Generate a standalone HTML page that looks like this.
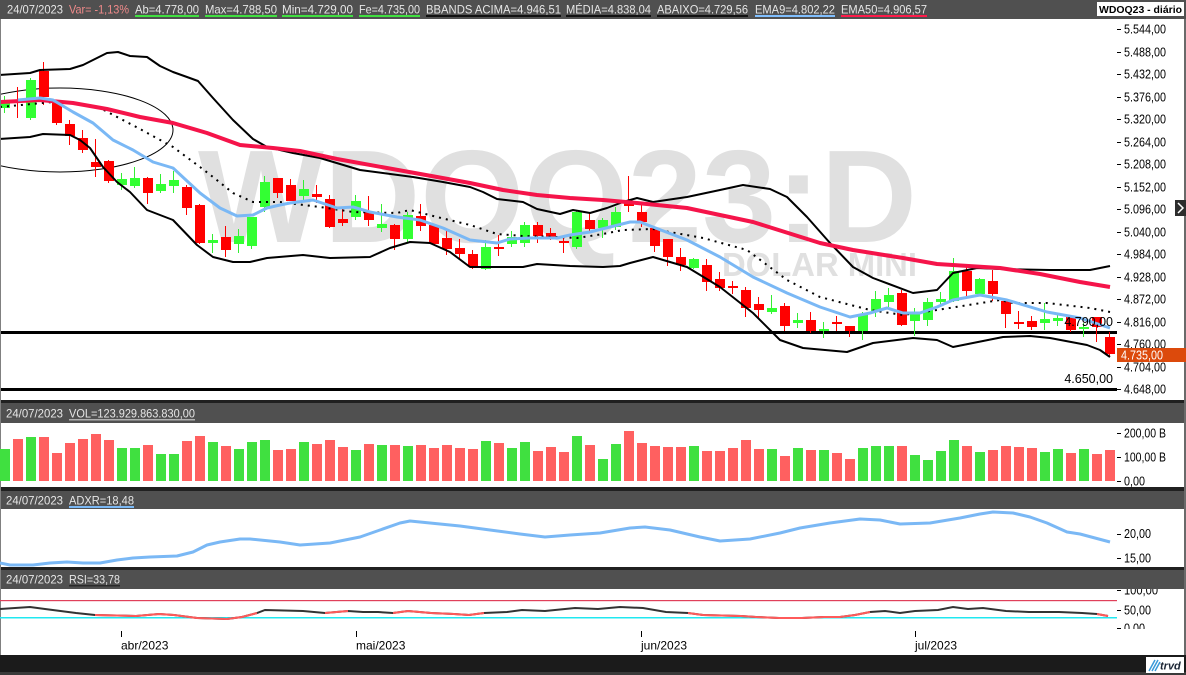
<!DOCTYPE html>
<html><head><meta charset="utf-8"><style>
html,body{margin:0;padding:0;background:#fff;}
svg{display:block;font-family:"Liberation Sans",Arial,sans-serif;}
</style></head><body>
<svg width="1186" height="675" viewBox="0 0 1186 675" xmlns="http://www.w3.org/2000/svg">
<defs>
<clipPath id="cm"><rect x="1" y="19" width="1116" height="382"/></clipPath>
<clipPath id="cr"><rect x="1100" y="589" width="86" height="40"/></clipPath>
</defs>
<rect x="0" y="0" width="1186" height="675" fill="#fff"/>
<rect x="0" y="0" width="1186" height="19" fill="#505050"/>
<rect x="0" y="400" width="1186" height="3" fill="#202020"/>
<rect x="0" y="403" width="1186" height="20" fill="#505050"/>
<rect x="0" y="487" width="1186" height="4" fill="#202020"/>
<rect x="0" y="491" width="1186" height="18" fill="#505050"/>
<rect x="0" y="567" width="1186" height="3" fill="#202020"/>
<rect x="0" y="570" width="1186" height="19" fill="#505050"/>
<rect x="0" y="655" width="1186" height="20" fill="#1b1b1b"/>
<rect x="0" y="672" width="1186" height="3" fill="#3a3a3a"/>
<rect x="0" y="19" width="1" height="636" fill="#808080"/>
<rect x="1184" y="19" width="2" height="636" fill="#6a6a6a"/>

<g clip-path="url(#cm)" fill="#e0e0e0" font-weight="bold">
<text x="198" y="242" font-size="132" textLength="719" lengthAdjust="spacingAndGlyphs">WDOQ23:D</text>
<text x="722" y="276" font-size="33" textLength="195" lengthAdjust="spacingAndGlyphs">DOLAR MINI</text>
</g>

<g clip-path="url(#cm)">
<rect x="0" y="331" width="1117" height="3" fill="#000"/>
<rect x="0" y="388" width="1117" height="3" fill="#000"/>
<ellipse cx="60" cy="130" rx="113" ry="42" fill="none" stroke="#000" stroke-width="1"/>
<path fill="none" stroke="#33ee33" stroke-width="1" d="M4.5 96V113M30.5 78V120M121.5 173V190M134.5 167V188M160.5 174V193M173.5 171V193M212.5 234V253M238.5 229V253M251.5 217V249M264.5 176V212M303.5 180V200M355.5 195V220M381.5 204V232M407.5 212V243M485.5 240V270M511.5 231V247M524.5 222V247M576.5 210V249M602.5 218V238M615.5 207V230M693.5 258V269M771.5 295V314M797.5 313V328M823.5 322V338M862.5 312V340M875.5 291V317M888.5 288V308M914.5 308V336M927.5 298V326M940.5 292V307M953.5 258V302M979.5 278V296M1044.5 303V330M1057.5 313V326M1083.5 323V337"/>
<path fill="none" stroke="#ff0000" stroke-width="1" d="M17.5 87V118M43.5 62V105M56.5 101V125M69.5 120V145M82.5 130V153M95.5 139V177M108.5 160V183M147.5 177V204M186.5 185V215M199.5 204V244M225.5 226V257M277.5 178V198M290.5 179V201M316.5 185V203M329.5 195V228M342.5 207V226M368.5 196V226M394.5 224V250M420.5 204V231M433.5 225V245M446.5 230V255M459.5 239V259M472.5 250V269M498.5 235V256M537.5 222V243M550.5 228V240M563.5 236V253M589.5 213V232M628.5 176V212M641.5 203V227M654.5 228V252M667.5 239V266M680.5 248V271M706.5 259V291M719.5 272V291M732.5 281V294M745.5 287V317M758.5 297V318M784.5 303V331M810.5 312V333M836.5 316V331M849.5 326V337M901.5 290V326M966.5 267V298M992.5 270V301M1005.5 300V328M1018.5 311V329M1031.5 316V330M1070.5 317V332M1096.5 317V342M1109.5 332V356"/>
<path fill="#33ff33" d="M0 100h10v8h-10zM26 80h10v38h-10zM117 179h10v6h-10zM130 178h10v8h-10zM156 184h10v7h-10zM169 180h10v6h-10zM208 240h10v3h-10zM234 236h10v8h-10zM247 217h10v29h-10zM260 182h10v25h-10zM299 189h10v7h-10zM351 201h10v16h-10zM377 224h10v4h-10zM403 215h10v24h-10zM481 247h10v22h-10zM507 237h10v7h-10zM520 225h10v18h-10zM572 212h10v35h-10zM598 220h10v8h-10zM611 212h10v15h-10zM689 259h10v9h-10zM767 308h10v4h-10zM793 320h10v3h-10zM819 329h10v2h-10zM858 314h10v17h-10zM871 299h10v13h-10zM884 295h10v7h-10zM910 312h10v9h-10zM923 302h10v18h-10zM936 299h10v3h-10zM949 271h10v30h-10zM975 279h10v15h-10zM1040 319h10v4h-10zM1053 318h10v3h-10zM1079 327h10v2h-10z"/>
<path fill="#ff0000" d="M13 100h10v2h-10zM39 71h10v26h-10zM52 102h10v21h-10zM65 124h10v12h-10zM78 138h10v12h-10zM91 162h10v5h-10zM104 161h10v20h-10zM143 178h10v15h-10zM182 187h10v21h-10zM195 205h10v38h-10zM221 237h10v13h-10zM273 178h10v15h-10zM286 185h10v16h-10zM312 194h10v3h-10zM325 199h10v28h-10zM338 219h10v4h-10zM364 212h10v8h-10zM390 225h10v14h-10zM416 216h10v10h-10zM429 225h10v19h-10zM442 238h10v11h-10zM455 248h10v6h-10zM468 254h10v12h-10zM494 247h10v2h-10zM533 225h10v11h-10zM546 233h10v4h-10zM559 241h10v2h-10zM585 220h10v9h-10zM624 203h10v3h-10zM637 212h10v10h-10zM650 228h10v18h-10zM663 239h10v18h-10zM676 257h10v8h-10zM702 265h10v17h-10zM715 279h10v9h-10zM728 286h10v2h-10zM741 290h10v18h-10zM754 304h10v6h-10zM780 306h10v20h-10zM806 320h10v11h-10zM832 322h10v2h-10zM845 326h10v5h-10zM897 293h10v32h-10zM962 271h10v20h-10zM988 281h10v13h-10zM1001 301h10v13h-10zM1014 322h10v2h-10zM1027 321h10v6h-10zM1066 317h10v13h-10zM1092 317h10v10h-10zM1105 337h10v17h-10z"/>
<polyline fill="none" stroke="#000" stroke-width="2" stroke-linejoin="round" points="0,75 30,73 40,70 70,69 83,65 107,53 118,52 130,56 147,57 160,66 173,72 187,77 198,81 213,98 233,120 253,139 267,147 293,153 320,158 360,170 413,177 443,182 470,187 483,192 497,199 523,202 537,209 560,214 573,210 590,213 607,208 623,202 637,198 653,202 687,197 720,190 743,185 770,189 787,197 807,217 830,243 853,267 873,278 913,293 937,290 953,273 977,268 1000,269 1050,270 1090,270 1110,266"/>
<polyline fill="none" stroke="#000" stroke-width="2" stroke-linejoin="round" points="0,139 30,137 43,134 70,135 80,140 90,148 103,167 117,182 130,192 147,210 173,220 197,245 213,257 233,262 250,262 267,258 303,255 330,258 370,257 390,248 410,242 430,243 450,252 470,267 483,267 523,267 537,264 570,266 603,267 620,266 630,263 653,257 687,267 720,287 753,313 780,340 803,348 847,352 873,343 913,338 937,340 953,347 973,343 1003,337 1030,336 1050,338 1087,345 1100,350 1110,357"/>
<polyline fill="none" stroke="#000" stroke-width="2" stroke-dasharray="2 5" points="0,107 53,102 80,104 100,108 140,129 173,147 200,167 213,177 233,193 253,202 280,202 320,207 353,212 397,213 410,210 437,217 470,225 497,234 523,236 557,237 577,238 603,234 623,230 653,229 703,238 747,250 787,280 820,297 870,310 903,315 937,310 1000,300 1013,303 1047,303 1090,308 1110,312"/>
<polyline fill="none" stroke="#f5144a" stroke-width="4" stroke-linejoin="round" points="0,102 40,100 73,103 107,109 140,117 173,123 207,133 240,145 273,148 300,151 337,159 437,177 470,183 503,190 537,195 570,198 603,200 637,203 687,208 753,222 820,243 853,250 903,258 937,264 1000,268 1040,274 1080,282 1110,287"/>
<polyline fill="none" stroke="#7ab8f5" stroke-width="3" stroke-linejoin="round" points="18,100 40,98 53,100 73,112 93,123 113,140 133,150 153,162 173,168 200,193 220,208 237,216 253,215 267,208 280,205 290,203 313,200 337,208 353,207 370,212 397,217 420,220 443,228 470,240 497,243 510,239 530,238 557,238 570,235 590,232 610,227 630,222 640,222 653,227 687,240 720,257 753,277 787,293 820,307 850,317 870,313 887,308 903,313 920,313 937,307 953,300 980,295 1007,300 1047,312 1080,318 1110,328"/>
<text x="1113" y="326" font-size="12.5" text-anchor="end" fill="#000">4.790,00</text>
<text x="1113" y="383" font-size="12.5" text-anchor="end" fill="#000">4.650,00</text>
</g>

<g fill="#000" font-size="12.5">
<path stroke="#000" stroke-width="1" d="M1117 29.5h4M1117 52.5h4M1117 74.5h4M1117 97.5h4M1117 119.5h4M1117 142.5h4M1117 164.5h4M1117 187.5h4M1117 209.5h4M1117 232.5h4M1117 254.5h4M1117 277.5h4M1117 299.5h4M1117 322.5h4M1117 344.5h4M1117 367.5h4M1117 389.5h4"/>
<text x="1124" y="33.5" textLength="42" lengthAdjust="spacingAndGlyphs">5.544,00</text>
<text x="1124" y="56.5" textLength="42" lengthAdjust="spacingAndGlyphs">5.488,00</text>
<text x="1124" y="78.5" textLength="42" lengthAdjust="spacingAndGlyphs">5.432,00</text>
<text x="1124" y="101.5" textLength="42" lengthAdjust="spacingAndGlyphs">5.376,00</text>
<text x="1124" y="123.5" textLength="42" lengthAdjust="spacingAndGlyphs">5.320,00</text>
<text x="1124" y="146.5" textLength="42" lengthAdjust="spacingAndGlyphs">5.264,00</text>
<text x="1124" y="168.5" textLength="42" lengthAdjust="spacingAndGlyphs">5.208,00</text>
<text x="1124" y="191.5" textLength="42" lengthAdjust="spacingAndGlyphs">5.152,00</text>
<text x="1124" y="213.5" textLength="42" lengthAdjust="spacingAndGlyphs">5.096,00</text>
<text x="1124" y="236.5" textLength="42" lengthAdjust="spacingAndGlyphs">5.040,00</text>
<text x="1124" y="258.5" textLength="42" lengthAdjust="spacingAndGlyphs">4.984,00</text>
<text x="1124" y="281.5" textLength="42" lengthAdjust="spacingAndGlyphs">4.928,00</text>
<text x="1124" y="303.5" textLength="42" lengthAdjust="spacingAndGlyphs">4.872,00</text>
<text x="1124" y="326.5" textLength="42" lengthAdjust="spacingAndGlyphs">4.816,00</text>
<text x="1124" y="348.5" textLength="42" lengthAdjust="spacingAndGlyphs">4.760,00</text>
<text x="1124" y="371.5" textLength="42" lengthAdjust="spacingAndGlyphs">4.704,00</text>
<text x="1124" y="393.5" textLength="42" lengthAdjust="spacingAndGlyphs">4.648,00</text>
</g>
<rect x="1117" y="348" width="69" height="14" fill="#dc4a0c"/>
<text x="1121" y="359.5" font-size="12.5" fill="#fff" textLength="42" lengthAdjust="spacingAndGlyphs">4.735,00</text>
<rect x="1175" y="200" width="11" height="16" fill="#2d2d2d"/>
<path d="M1178 203l5 5l-5 5" fill="none" stroke="#fff" stroke-width="1.5"/>

<g font-size="12" fill="#e6e6e6">
<text x="7" y="13.5" textLength="56" lengthAdjust="spacingAndGlyphs">24/07/2023</text>
<text x="69" y="13.5" fill="#f08a8a" textLength="60" lengthAdjust="spacingAndGlyphs">Var= -1,13%</text>
<text x="135" y="13.5" textLength="64" lengthAdjust="spacingAndGlyphs">Ab=4.778,00</text>
<text x="205" y="13.5" textLength="72" lengthAdjust="spacingAndGlyphs">Max=4.788,50</text>
<text x="282" y="13.5" textLength="71" lengthAdjust="spacingAndGlyphs">Min=4.729,00</text>
<text x="359" y="13.5" textLength="61" lengthAdjust="spacingAndGlyphs">Fe=4.735,00</text>
<text x="426" y="13.5" textLength="135" lengthAdjust="spacingAndGlyphs">BBANDS ACIMA=4.946,51</text>
<text x="566" y="13.5" textLength="85" lengthAdjust="spacingAndGlyphs">MÉDIA=4.838,04</text>
<text x="657" y="13.5" textLength="91" lengthAdjust="spacingAndGlyphs">ABAIXO=4.729,56</text>
<text x="755" y="13.5" textLength="80" lengthAdjust="spacingAndGlyphs">EMA9=4.802,22</text>
<text x="841" y="13.5" textLength="86" lengthAdjust="spacingAndGlyphs">EMA50=4.906,57</text>
</g>
<rect x="135" y="15" width="64" height="2" fill="#40e040"/>
<rect x="205" y="15" width="72" height="2" fill="#40e040"/>
<rect x="282" y="15" width="71" height="2" fill="#40e040"/>
<rect x="359" y="15" width="61" height="2" fill="#40e040"/>
<rect x="426" y="15" width="135" height="2" fill="#111"/>
<rect x="566" y="15" width="85" height="2" fill="#111"/>
<rect x="657" y="15" width="91" height="2" fill="#111"/>
<rect x="755" y="15" width="80" height="2" fill="#80bfff"/>
<rect x="841" y="15" width="86" height="2" fill="#ff1a4a"/>
<rect x="1097" y="2" width="87" height="14" fill="#fff"/>
<text x="1099" y="13" font-size="10.5" font-weight="bold" fill="#000" textLength="83" lengthAdjust="spacingAndGlyphs">WDOQ23 - diário</text>

<path fill="#40e040" d="M0 449h10V481h-10zM26 437h10V481h-10zM117 448h10V481h-10zM130 448h10V481h-10zM156 454h10V481h-10zM169 454h10V481h-10zM208 442h10V481h-10zM234 449h10V481h-10zM247 442h10V481h-10zM260 440h10V481h-10zM299 442h10V481h-10zM351 450h10V481h-10zM377 445h10V481h-10zM403 446h10V481h-10zM481 441h10V481h-10zM507 448h10V481h-10zM520 442h10V481h-10zM572 436h10V481h-10zM598 459h10V481h-10zM611 444h10V481h-10zM689 446h10V481h-10zM767 449h10V481h-10zM793 448h10V481h-10zM819 450h10V481h-10zM858 448h10V481h-10zM871 446h10V481h-10zM884 446h10V481h-10zM910 455h10V481h-10zM923 460h10V481h-10zM936 451h10V481h-10zM949 440h10V481h-10zM975 452h10V481h-10zM1040 452h10V481h-10zM1053 449h10V481h-10zM1079 449h10V481h-10z"/>
<path fill="#ff6060" d="M13 439h10V481h-10zM39 437h10V481h-10zM52 453h10V481h-10zM65 443h10V481h-10zM78 439h10V481h-10zM91 434h10V481h-10zM104 440h10V481h-10zM143 445h10V481h-10zM182 441h10V481h-10zM195 436h10V481h-10zM221 446h10V481h-10zM273 450h10V481h-10zM286 449h10V481h-10zM312 444h10V481h-10zM325 440h10V481h-10zM338 447h10V481h-10zM364 444h10V481h-10zM390 445h10V481h-10zM416 445h10V481h-10zM429 448h10V481h-10zM442 445h10V481h-10zM455 448h10V481h-10zM468 449h10V481h-10zM494 443h10V481h-10zM533 451h10V481h-10zM546 447h10V481h-10zM559 452h10V481h-10zM585 445h10V481h-10zM624 431h10V481h-10zM637 443h10V481h-10zM650 446h10V481h-10zM663 447h10V481h-10zM676 447h10V481h-10zM702 451h10V481h-10zM715 451h10V481h-10zM728 448h10V481h-10zM741 440h10V481h-10zM754 449h10V481h-10zM780 456h10V481h-10zM806 450h10V481h-10zM832 453h10V481h-10zM845 459h10V481h-10zM897 446h10V481h-10zM962 446h10V481h-10zM988 450h10V481h-10zM1001 446h10V481h-10zM1014 447h10V481h-10zM1027 448h10V481h-10zM1066 453h10V481h-10zM1092 454h10V481h-10zM1105 450h10V481h-10z"/>
<g fill="#000" font-size="12.5">
<path stroke="#000" stroke-width="1" d="M1117 433.5h4M1117 457.5h4M1117 481.5h4M1117 534.5h4M1117 558.5h4M1117 610.5h4"/>
<text x="1124" y="437.5" textLength="42" lengthAdjust="spacingAndGlyphs">200,00 B</text>
<text x="1124" y="461.5" textLength="42" lengthAdjust="spacingAndGlyphs">100,00 B</text>
<text x="1124" y="485.5" textLength="21" lengthAdjust="spacingAndGlyphs">0,00</text>
<text x="1124" y="538" textLength="27" lengthAdjust="spacingAndGlyphs">20,00</text>
<text x="1124" y="562.5" textLength="27" lengthAdjust="spacingAndGlyphs">15,00</text>
<g clip-path="url(#cr)">
<path stroke="#000" stroke-width="1" d="M1117 590.5h4M1117 628.5h4"/>
<text x="1124" y="594.5" textLength="34" lengthAdjust="spacingAndGlyphs">100,00</text>
<text x="1124" y="614.5" textLength="27" lengthAdjust="spacingAndGlyphs">50,00</text>
<text x="1124" y="632.5" textLength="21" lengthAdjust="spacingAndGlyphs">0,00</text>
</g>
</g>

<g font-size="12" fill="#e6e6e6">
<text x="6" y="417.5" textLength="57" lengthAdjust="spacingAndGlyphs">24/07/2023</text>
<text x="69" y="417.5" textLength="126" lengthAdjust="spacingAndGlyphs">VOL=123.929.863.830,00</text>
<text x="6" y="504.5" textLength="57" lengthAdjust="spacingAndGlyphs">24/07/2023</text>
<text x="69" y="504.5" textLength="65" lengthAdjust="spacingAndGlyphs">ADXR=18,48</text>
<text x="6" y="583.5" textLength="57" lengthAdjust="spacingAndGlyphs">24/07/2023</text>
<text x="69" y="583.5" textLength="51" lengthAdjust="spacingAndGlyphs">RSI=33,78</text>
</g>
<rect x="69" y="419" width="126" height="1.5" fill="#b0b0b0"/>
<rect x="69" y="506" width="65" height="2" fill="#7ab8f5"/>
<rect x="69" y="585" width="51" height="1.5" fill="#2a2a2a"/>

<polyline fill="none" stroke="#7ab8f5" stroke-width="3" stroke-linejoin="round" points="0,563 10,565 33,565 50,563 67,562 83,563 100,563 117,560 133,558 150,557 177,556 193,552 207,545 220,542 240,539 250,539 280,542 300,545 330,543 360,537 380,530 400,523 410,521 430,523 460,526 490,530 520,534 545,537 570,535 600,533 630,528 645,527 670,530 700,537 720,541 750,539 780,533 800,528 830,523 860,519 880,520 900,524 930,523 960,518 980,514 993,512 1013,513 1030,517 1047,523 1067,532 1080,534 1110,542"/>

<rect x="0" y="600" width="1117" height="1.2" fill="#e0405a"/>
<rect x="0" y="617" width="1117" height="1.5" fill="#20e8f0"/>
<polyline fill="none" stroke="#333" stroke-width="2" points="0,609 30,607 45,609 76,613 95,615 136,616 159,614 174,615 197,618 227,619 242,617 257,613 265,610 303,611 325,613 348,611 363,612 378,612 393,613 408,611 431,613 454,614 469,615 484,613 507,612 522,610 545,611 575,608 598,609 620,607 643,608 666,612 688,613 703,615 741,616 756,617 779,618 802,618 824,617 840,617 855,615 870,612 885,611 900,613 915,611 938,610 953,607 968,609 983,608 1006,611 1029,612 1059,612 1082,613 1097,614 1108,616"/>
<polyline fill="none" stroke="#ff5a5a" stroke-width="2" points="95,615 136,616 159,614 174,615 197,618 227,619 242,617 257,613"/>
<polyline fill="none" stroke="#ff5a5a" stroke-width="2" points="325,613 348,611"/>
<polyline fill="none" stroke="#ff5a5a" stroke-width="2" points="393,613 408,611 431,613 454,614 469,615 484,613"/>
<polyline fill="none" stroke="#ff5a5a" stroke-width="2" points="688,613 703,615 741,616 756,617 779,618 802,618 824,617 840,617 855,615 870,612"/>
<polyline fill="none" stroke="#ff5a5a" stroke-width="2" points="1097,614 1108,616"/>

<path stroke="#000" stroke-width="1" d="M121.5 631v6M356.5 631v6M641.5 631v6M915.5 631v6"/>
<g font-size="12" fill="#000">
<text x="121" y="649.5">abr/2023</text>
<text x="356" y="649.5">mai/2023</text>
<text x="641" y="649.5">jun/2023</text>
<text x="915" y="649.5">jul/2023</text>
</g>

<rect x="1146" y="657" width="38" height="16" fill="#fff"/>
<path d="M1149 671l6-11M1152 671l6-11M1155 671l5-9" stroke="#3a9ad9" stroke-width="1.5"/>
<text x="1160" y="669.5" font-size="11" font-style="italic" font-weight="bold" fill="#1a2433">trvd</text>
</svg>
</body></html>
